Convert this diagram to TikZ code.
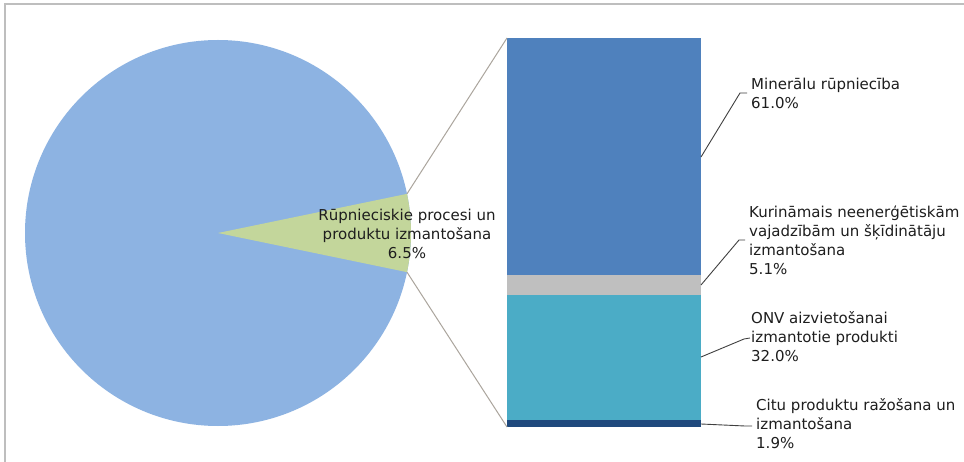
\documentclass[tikz,border=0pt]{standalone}
\usepackage{fontspec}
\setmainfont{DejaVu Sans}
\definecolor{pieblue}{HTML}{8DB3E2}
\definecolor{piegreen}{HTML}{C3D69B}
\definecolor{barblue}{HTML}{4F81BD}
\definecolor{bargray}{HTML}{BFBFBF}
\definecolor{barcyan}{HTML}{4BACC6}
\definecolor{bardark}{HTML}{1F497D}
\definecolor{framegray}{HTML}{BEBEBE}
\definecolor{conngray}{HTML}{ABA59D}
\definecolor{txt}{HTML}{1E1E1E}
\tikzset{
  lbl/.style={inner sep=0pt, text=txt, font=\fontsize{15}{19}\selectfont},
  leader/.style={draw=txt!85, line width=0.9pt},
  zoomline/.style={draw=conngray, line width=1pt},
}
\begin{document}
\begin{tikzpicture}[x=1pt,y=-1pt]
\useasboundingbox (0,0) rectangle (964,462);
\fill[white] (0,0) rectangle (964,462);
% frame (top and left edges)
\draw[framegray, line width=1.6pt] (5,462) -- (5,4) -- (964,4);
% pie
\coordinate (pc) at (218,233);
\fill[pieblue] (pc) circle (193);
\fill[piegreen] (pc) -- ++(-11.7:193) coordinate (wtop) arc (-11.7:11.7:193) coordinate (wbot) -- cycle;
% bar
\fill[barblue] (507,38) rectangle (701,275);
\fill[bargray] (507,275) rectangle (701,295);
\fill[barcyan] (507,295) rectangle (701,420);
\fill[bardark] (507,420) rectangle (701,427);
\coordinate (btl) at (507,38);
\coordinate (bbl) at (507,427);
% zoom connector lines
\draw[zoomline] (wtop) -- (btl);
\draw[zoomline] (wbot) -- (bbl);
% pie label
\node[lbl, align=center, anchor=north] (plab) at (407,206.7) {\strut R\=upnieciskie procesi un\\ \strut produktu izmantošana\\ \strut 6.5\%};
% bar labels
\node[lbl, align=left, anchor=north west] (la) at (751,75.7) {\strut Minerālu rūpniecība\\ \strut 61.0\%};
\node[lbl, align=left, anchor=north west] (lb) at (749,203.7) {\strut Kurināmais neenerģētiskām\\ \strut vajadzībām un šķīdinātāju\\ \strut izmantošana\\ \strut 5.1\%};
\node[lbl, align=left, anchor=north west] (lc) at (751,309.7) {\strut ONV aizvietošanai\\ \strut izmantotie produkti\\ \strut 32.0\%};
\node[lbl, align=left, anchor=north west] (ld) at (756,396.7) {\strut Citu produktu ražošana un\\ \strut izmantošana\\ \strut 1.9\%};
% leader lines
\coordinate (sa) at (701,157); \coordinate (ea) at (740,93); \coordinate (fa) at (747,93);
\coordinate (sb) at (701,285); \coordinate (eb) at (739,240); \coordinate (fb) at (745,240);
\coordinate (sc) at (701,357); \coordinate (ec) at (744,339); \coordinate (fc) at (750,338);
\coordinate (sd) at (701,424); \coordinate (ed) at (745,426); \coordinate (fd) at (752,426);
\draw[leader] (sa) -- (ea) -- (fa);
\draw[leader] (sb) -- (eb) -- (fb);
\draw[leader] (sc) -- (ec) -- (fc);
\draw[leader] (sd) -- (ed) -- (fd);
\end{tikzpicture}
\end{document}
